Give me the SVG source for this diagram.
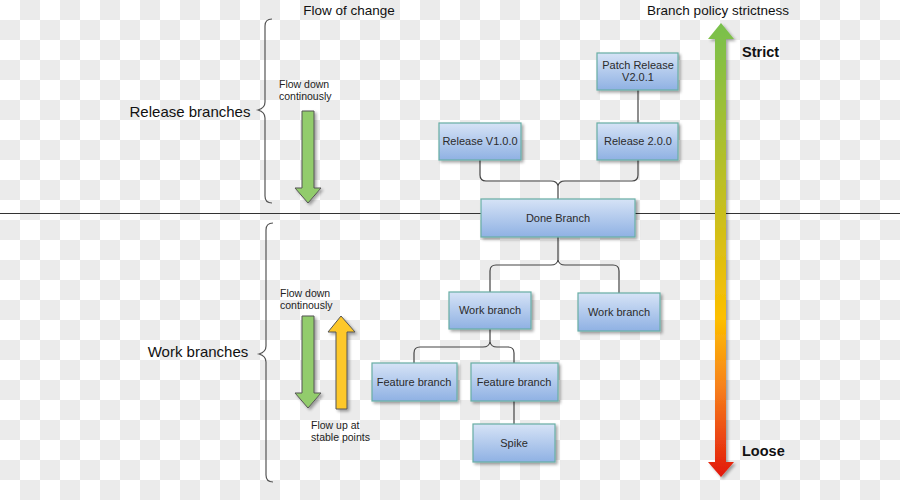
<svg xmlns="http://www.w3.org/2000/svg" width="900" height="500" viewBox="0 0 900 500">
<defs>
<pattern id="checker" width="40" height="40" patternUnits="userSpaceOnUse">
<rect width="40" height="40" fill="#ffffff"/>
<rect x="20" y="0" width="20" height="20" fill="#ebebeb"/>
<rect x="0" y="20" width="20" height="20" fill="#ebebeb"/>
</pattern>
<linearGradient id="nodeGrad" x1="0" y1="0" x2="0" y2="1">
<stop offset="0" stop-color="#d6e3f6"/>
<stop offset="1" stop-color="#8fb1e3"/>
</linearGradient>
<linearGradient id="strictGrad" x1="0" y1="0" x2="0" y2="1">
<stop offset="0" stop-color="#78c04c"/>
<stop offset="0.4" stop-color="#c5bf20"/>
<stop offset="0.65" stop-color="#fdbf00"/>
<stop offset="0.8" stop-color="#f7821c"/>
<stop offset="1" stop-color="#e2180c"/>
</linearGradient>
<filter id="shadow" x="-20%" y="-20%" width="150%" height="150%">
<feGaussianBlur in="SourceAlpha" stdDeviation="1.5"/>
<feOffset dx="2" dy="2" result="b"/>
<feComponentTransfer><feFuncA type="linear" slope="0.35"/></feComponentTransfer>
<feMerge><feMergeNode/><feMergeNode in="SourceGraphic"/></feMerge>
</filter>
</defs>
<style>
.node rect { fill: url(#nodeGrad); stroke: #68aea5; stroke-width: 1.2; filter: url(#shadow); }
.node text { font-family: "Liberation Sans", Arial, sans-serif; font-size: 11px; fill: #2b2b2b; text-anchor: middle; }
.conn path { fill: none; stroke: #444; stroke-width: 1.2; }
.brace { fill: none; stroke: #555; stroke-width: 1.2; }
.title { font-family: "Liberation Sans", Arial, sans-serif; font-size: 13.5px; fill: #111; text-anchor: middle; }
.side { font-family: "Liberation Sans", Arial, sans-serif; font-size: 15px; fill: #111; text-anchor: middle; }
.small { font-family: "Liberation Sans", Arial, sans-serif; font-size: 10.5px; fill: #222; }
.bold { font-family: "Liberation Sans", Arial, sans-serif; font-size: 14.5px; font-weight: bold; fill: #111; }
.garrow { fill: #92cc6c; stroke: #555; stroke-width: 1; filter: url(#shadow); }
.yarrow { fill: #fdc82c; stroke: #555; stroke-width: 1; filter: url(#shadow); }
</style>
<rect width="900" height="500" fill="url(#checker)"/>

<!-- divider -->
<line x1="0" y1="213.5" x2="900" y2="213.5" stroke="#333" stroke-width="1"/>

<!-- titles -->
<text class="title" x="349" y="15">Flow of change</text>
<text class="title" x="718" y="15">Branch policy strictness</text>

<!-- section labels & braces -->
<g id="release-label">
<text class="side" x="190" y="117">Release branches</text>
<path class="brace" d="M272,19 Q265,19 265,26 L265,102 Q265,108 258,110 Q265,112 265,118 L265,196 Q265,203 272,203"/>
</g>
<g id="work-label">
<text class="side" x="198" y="357">Work branches</text>
<path class="brace" d="M273,223 Q266,223 266,230 L266,346 Q266,352 259,354 Q266,356 266,362 L266,475 Q266,482 273,482"/>
</g>

<!-- flow arrows -->
<g id="flow-release">
<text class="small" x="279" y="88">Flow down</text>
<text class="small" x="279" y="100">continously</text>
<path class="garrow" d="M302,111 L314,111 L314,188 L321,188 L308,203 L295,188 L302,188 Z"/>
</g>
<g id="flow-work">
<text class="small" x="280" y="297">Flow down</text>
<text class="small" x="280" y="309">continously</text>
<path class="garrow" d="M302,316 L314,316 L314,393 L321,393 L308,408 L295,393 L302,393 Z"/>
<path class="yarrow" d="M336,409 L347,409 L347,332 L355,332 L341,316 L328,332 L336,332 Z"/>
<text class="small" x="311" y="429">Flow up at</text>
<text class="small" x="311" y="441">stable points</text>
</g>

<!-- strictness arrow -->
<g id="strictness">
<path d="M715,39 L726,39 L726,462 L734,462 L721,477 L708,462 L715,462 L715,39 L708,39 L721,23 L734,39 Z" fill="url(#strictGrad)" filter="url(#shadow)"/>
<text class="bold" x="742" y="57">Strict</text>
<text class="bold" x="742" y="456">Loose</text>
</g>

<!-- connectors -->
<g id="connectors" class="conn">
<path d="M638,90 L638,123"/>
<path d="M480,160 L480,175 Q480,181 486,181 L551,181 Q557,181 558,186 Q559,181 565,181 L632,181 Q638,181 638,175 L638,160"/>
<path d="M558,186 L558,199"/>
<path d="M558,237 L558,260 Q559,265 565,265 L613,265 Q619,265 619,271 L619,293"/>
<path d="M558,260 Q557,265 551,265 L496,265 Q490,265 490,271 L490,292"/>
<path d="M490,329 L490,342 Q491,347 497,347 L508,347 Q514,347 514,353 L514,363"/>
<path d="M490,342 Q489,347 483,347 L420,347 Q414,347 414,353 L414,363"/>
<path d="M514,401 L514,424"/>
</g>

<!-- nodes -->
<g id="patch-release" class="node">
<rect x="597" y="53" width="81" height="37"/>
<text x="638" y="69">Patch Release</text>
<text x="638" y="81">V2.0.1</text>
</g>
<g id="release-v100" class="node">
<rect x="439" y="123" width="82" height="37"/>
<text x="480" y="145">Release V1.0.0</text>
</g>
<g id="release-200" class="node">
<rect x="597" y="123" width="81" height="37"/>
<text x="638" y="145">Release 2.0.0</text>
</g>
<g id="done-branch" class="node">
<rect x="481" y="199" width="154" height="38"/>
<text x="558" y="222">Done Branch</text>
</g>
<g id="work-branch-1" class="node">
<rect x="449" y="292" width="82" height="37"/>
<text x="490" y="314">Work branch</text>
</g>
<g id="work-branch-2" class="node">
<rect x="578" y="293" width="82" height="38"/>
<text x="619" y="316">Work branch</text>
</g>
<g id="feature-branch-1" class="node">
<rect x="372" y="363" width="85" height="38"/>
<text x="414" y="386">Feature branch</text>
</g>
<g id="feature-branch-2" class="node">
<rect x="471" y="363" width="87" height="38"/>
<text x="514" y="386">Feature branch</text>
</g>
<g id="spike" class="node">
<rect x="473" y="424" width="82" height="38"/>
<text x="514" y="447">Spike</text>
</g>
</svg>
